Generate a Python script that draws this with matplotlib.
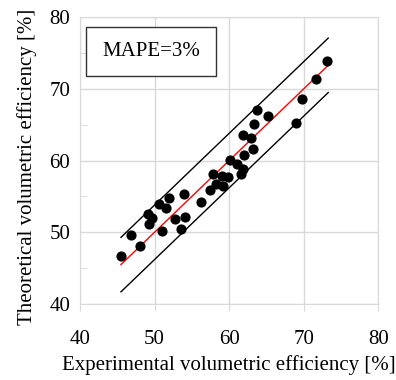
import numpy as np
import matplotlib.pyplot as plt
from matplotlib.ticker import MultipleLocator
from matplotlib.patches import Rectangle

# experimental vs theoretical volumetric efficiency [%]
exp_eff = [45.5, 46.9, 48.0, 49.1, 49.6, 49.3, 50.6, 51.0, 51.6, 52.0,
           52.8, 53.6, 54.1, 53.9, 56.2, 57.4, 57.8, 58.3, 59.0, 59.2,
           59.9, 60.1, 61.0, 61.6, 61.9, 62.0, 63.2, 61.9, 62.9, 63.4,
           63.8, 65.2, 69.0, 69.8, 71.6, 73.2]
theo_eff = [46.7, 49.6, 48.1, 52.5, 52.0, 51.2, 54.0, 50.2, 53.4, 54.8,
            51.8, 50.5, 52.1, 55.3, 54.2, 55.9, 58.2, 56.8, 57.9, 56.5,
            57.7, 60.1, 59.6, 58.1, 58.9, 60.8, 61.6, 63.6, 63.2, 65.1,
            67.0, 66.2, 65.2, 68.6, 71.4, 73.9]

line_x = [45.5, 73.3]
band = 3.8

plt.rcParams['font.family'] = ['Liberation Serif', 'DejaVu Serif']

fig = plt.figure(figsize=(3.96, 3.8), dpi=100)
ax = fig.add_axes([0.202, 0.2, 0.753, 0.7545])

ax.plot(line_x, [v + band for v in line_x], color='black', lw=1.0)
ax.plot(line_x, [v - band for v in line_x], color='black', lw=1.0)
ax.plot(line_x, line_x, color='red', lw=1.0)
ax.scatter(exp_eff, theo_eff, s=40, color='black', zorder=3)

ax.set_xlim(40, 80)
ax.set_ylim(40, 80)
ax.xaxis.set_major_locator(MultipleLocator(10))
ax.yaxis.set_major_locator(MultipleLocator(10))
ax.yaxis.set_minor_locator(MultipleLocator(5))
ax.grid(True, color='#d9d9d9', lw=1.0)
ax.set_axisbelow(True)
for s in ax.spines.values():
    s.set_color('#d9d9d9')
ax.tick_params(axis='x', which='major', direction='out', length=5,
               color='#d9d9d9', labelsize=15, pad=14)
ax.tick_params(axis='y', which='major', length=0, labelsize=15, pad=7)
ax.tick_params(axis='y', which='minor', direction='in', length=5,
               color='#d9d9d9')

ax.set_xlabel('Experimental volumetric efficiency [%]', fontsize=15, labelpad=4)
ax.set_ylabel('Theoretical volumetric efficiency [%]', fontsize=15)
ax.yaxis.set_label_coords(-0.144, 0.477)

ax.add_patch(Rectangle((0.02, 0.795), 0.436, 0.171, transform=ax.transAxes,
                       fc='white', ec='#333333', lw=1.0, zorder=4))
ax.text(0.238, 0.879, 'MAPE=3%', transform=ax.transAxes, fontsize=15,
        ha='center', va='center', zorder=5)

fig.savefig('out.png', dpi=100)
